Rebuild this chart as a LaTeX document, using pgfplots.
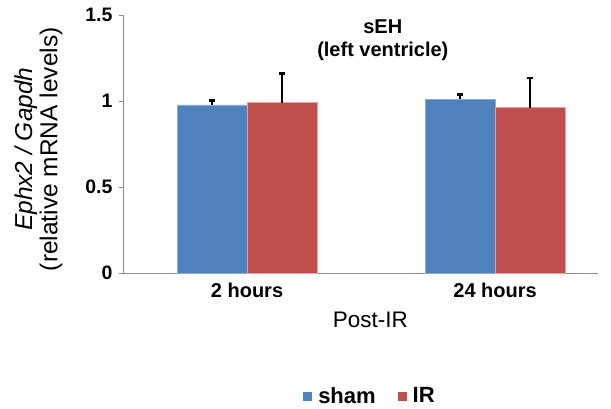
\documentclass[border=0pt]{standalone}
\usepackage{fontspec}
\setmainfont{Liberation Sans}
\usepackage{pgfplots}
\pgfplotsset{compat=1.18}

\definecolor{shamblue}{HTML}{4F81BD}
\definecolor{shamedge}{HTML}{8EAAD6}
\definecolor{irred}{HTML}{C0504D}
\definecolor{iredge}{HTML}{E2A3A2}
\definecolor{axisgray}{HTML}{8C8C8C}

\begin{document}
\begin{tikzpicture}
\useasboundingbox (-123pt,-135pt) rectangle (488pt,273pt);
\begin{axis}[
  scale only axis,
  width=475pt, height=258pt,
  xmin=-0.5, xmax=1.415,
  ymin=0, ymax=1.5,
  axis x line*=bottom, axis y line*=left,
  axis line style={axisgray, line width=0.8pt},
  xtick={0,1},
  xticklabels={2 hours,24 hours},
  extra x ticks={0.5},
  extra x tick labels={},
  extra x tick style={major tick length=5pt, tick style={axisgray, line width=0.8pt}},
  major x tick style={draw=none},
  ytick={0,0.5,1,1.5},
  yticklabels={0,0.5,1,1.5},
  y tick style={axisgray, line width=0.8pt},
  tick align=outside,
  major tick length=4pt,
  xticklabel style={font=\fontsize{20}{22}\selectfont\bfseries, yshift=-2pt},
  yticklabel style={font=\fontsize{19.5}{21}\selectfont\bfseries, xshift=-3pt},
  /pgf/number format/assume math mode=true,
  xlabel={Post-IR},
  xlabel style={font=\fontsize{22.5}{24}\selectfont, at={(axis description cs:0.521,-0.18)}, anchor=center},
  ylabel={\textit{Ephx2 / Gapdh}\\(relative mRNA levels)},
  ylabel style={font=\fontsize{24.5}{25}\selectfont, align=center, at={(axis description cs:-0.178,0.48)}, anchor=center},
  ybar, bar width=70pt,
  legend style={at={(axis description cs:0.52,-0.477)}, anchor=center, draw=none,
    legend columns=2, font=\fontsize{22}{24}\selectfont\bfseries,
    /tikz/every odd column/.append style={column sep=4pt},
    /tikz/every even column/.append style={column sep=20pt}},
  legend image code/.code={\fill[#1, draw=none] (0pt,-4.5pt) rectangle (9pt,4.5pt);},
  clip=false,
]
\addplot[fill=shamblue, draw=shamedge, line width=0.8pt, bar shift=-35pt,
  error bars/.cd, y dir=plus, y explicit,
  error bar style={black, line width=2.4pt}, error mark options={black, line width=2.4pt, mark size=2.8pt, rotate=90}]
  coordinates {(0,0.977) +- (0,0.025) (1,1.010) +- (0,0.027)};
\addlegendentry{sham}
\addplot[fill=irred, draw=iredge, line width=0.8pt, bar shift=35pt,
  error bars/.cd, y dir=plus, y explicit,
  error bar style={black, line width=2.4pt}, error mark options={black, line width=2.4pt, mark size=2.8pt, rotate=90}]
  coordinates {(0,0.990) +- (0,0.171) (1,0.961) +- (0,0.174)};
\addlegendentry{IR}
\node[font=\fontsize{20}{23}\selectfont\bfseries, align=center] at (axis description cs:0.547,0.903) {sEH\\(left ventricle)};
\end{axis}
\end{tikzpicture}
\end{document}
